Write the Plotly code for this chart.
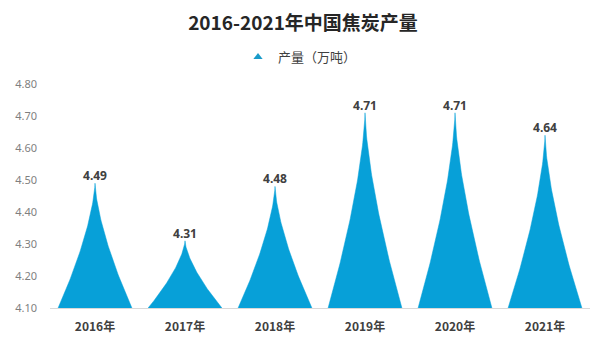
import numpy as np
import plotly.graph_objects as go

categories = ["2016年", "2017年", "2018年", "2019年", "2020年", "2021年"]
values = [4.49, 4.31, 4.48, 4.71, 4.71, 4.64]
series_name = "产量（万吨）"
y_ticks = [4.10, 4.20, 4.30, 4.40, 4.50, 4.60, 4.70, 4.80]

BASE = 4.10
HALF_W = 0.41
COLOR = "#07a0d8"


def spike(xc, top, base, hw, n=60):
    # concave-sided spike shape
    s = np.linspace(0, 1, n)          # 0 at base, 1 at peak
    half = hw * (1 - s) ** 1.5
    ys_up = base + (top - base) * s
    xs = list(xc + half) + list((xc - half)[::-1])
    ys = list(ys_up) + list(ys_up[::-1])
    return xs, ys


fig = go.Figure()
xpos = list(range(len(categories)))
for i, v in enumerate(values):
    xs, ys = spike(xpos[i], v, BASE, HALF_W)
    fig.add_trace(go.Scatter(
        x=xs, y=ys, mode="lines", fill="toself", fillcolor=COLOR,
        line=dict(color=COLOR, width=0.5), showlegend=False, hoverinfo="skip"))

fig.add_trace(go.Scatter(
    x=xpos, y=values, mode="text", text=[f"{v:.2f}" for v in values],
    textposition="top center",
    textfont=dict(family="Noto Sans, Open Sans, sans-serif", size=12, color="#404040", weight="bold"),
    showlegend=False, hoverinfo="skip", cliponaxis=False))

fig.add_trace(go.Scatter(
    x=[None], y=[None], mode="markers", name=series_name,
    marker=dict(symbol="triangle-up", size=8, color="#1a9bc9")))

fig.update_layout(
    width=606, height=364,
    paper_bgcolor="white", plot_bgcolor="white",
    margin=dict(l=50, r=16, t=84, b=56, autoexpand=False),
    title=dict(text="<b>2016-2021年中国焦炭产量</b>", x=0.5, xanchor="center",
               y=1 - 23 / 364, yref="container", yanchor="middle",
               font=dict(family="Noto Sans CJK SC, sans-serif", size=19, color="#262626")),
    legend=dict(orientation="h", xref="container", x=300 / 606, xanchor="center",
                yref="container", y=1 - 57 / 364, yanchor="middle",
                font=dict(family="Noto Sans CJK SC, sans-serif", size=13, color="#404040"),
                itemwidth=30),
    xaxis=dict(range=[-0.5, len(categories) - 0.5], tickvals=xpos, ticktext=categories,
               showgrid=False, zeroline=False, showline=True, linecolor="#d9d9d9", linewidth=1,
               ticks="", ticklabelstandoff=8,
               tickfont=dict(family="Noto Sans CJK SC, sans-serif", size=12,
                             color="#404040", weight="bold")),
    yaxis=dict(range=[4.10, 4.80], tickvals=y_ticks, ticktext=[f"{t:.2f}" for t in y_ticks],
               showgrid=False, zeroline=False, showline=False, ticks="",
               ticklabelstandoff=12,
               tickfont=dict(family="Noto Sans, sans-serif", size=11, color="#7f7f7f")),
)

fig.write_html("out.html", config={"displayModeBar": False},
               post_script="document.body.style.margin='0';")
